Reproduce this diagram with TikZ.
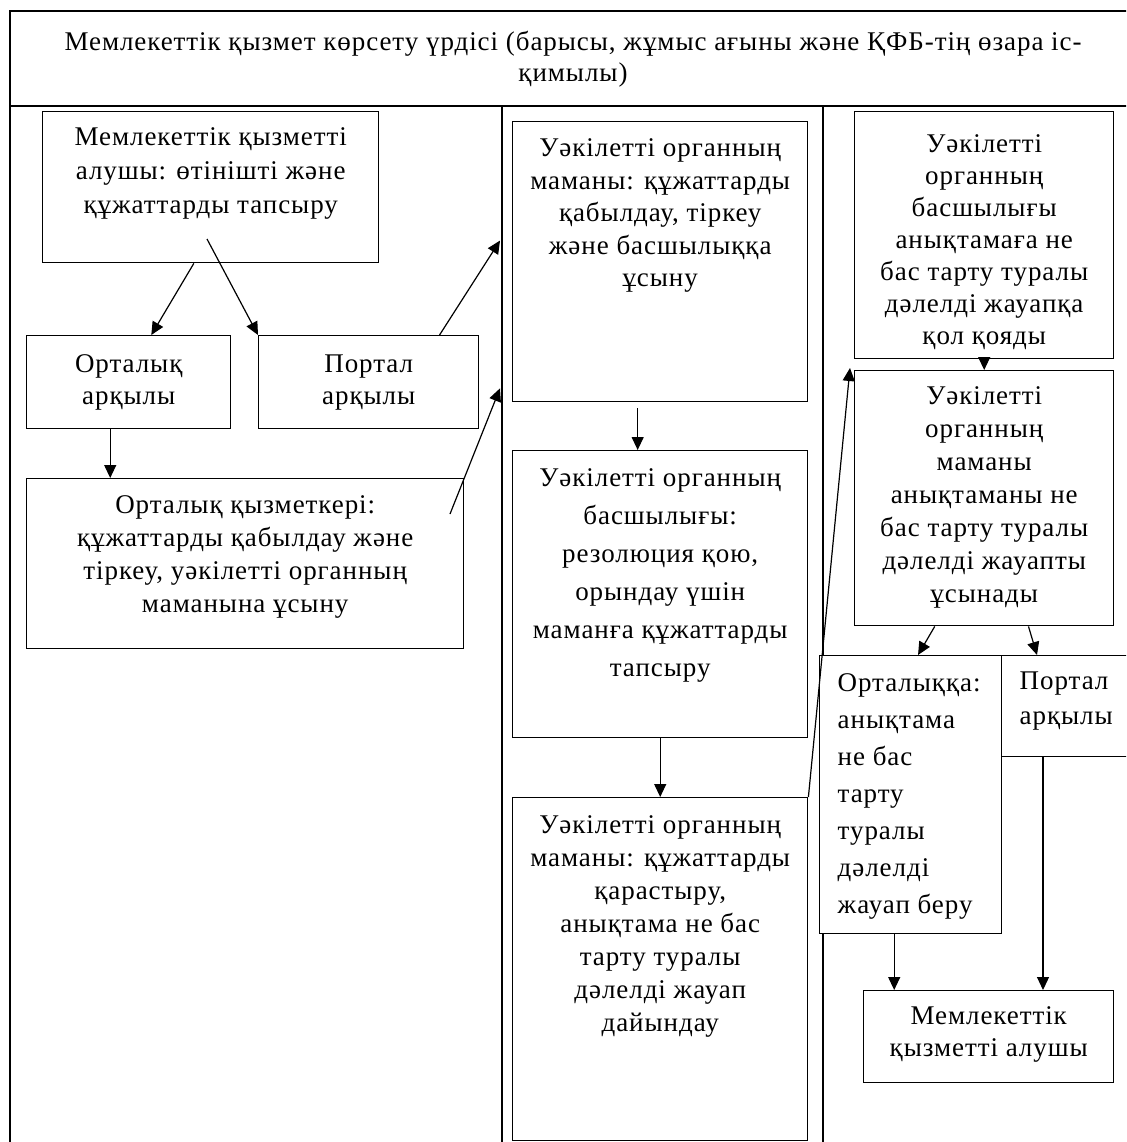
\documentclass[tikz,border=0pt]{standalone}
\usepackage{fontspec}
\setmainfont{Liberation Serif}[LetterSpace=3.5]
\usetikzlibrary{arrows.meta,calc}

% width, height, line spacing, top gap, text
\newcommand{\cellc}[5]{\parbox[c][#2pt][t]{#1pt}{\centering\fontsize{27pt}{#3pt}\selectfont\vspace*{#4pt}#5}}
\newcommand{\celll}[5]{\parbox[c][#2pt][t]{#1pt}{\raggedright\leftskip=18pt\fontsize{27pt}{#3pt}\selectfont\vspace*{#4pt}#5}}

\begin{document}
\begin{tikzpicture}[x=1pt, y=-1pt,
                    align=center,
                    cell/.style={draw, fill=white, anchor=north west, inner sep=0pt, line width=1.4pt},
                    frame/.style={line width=1.4pt},
                    flow/.style={-{Triangle[length=13pt,width=12pt]}, line width=1.2pt}]
  \useasboundingbox (0,0) rectangle (1126,1142);
  \fill[white] (0,0) rectangle (1126,1142);
  \clip (0,0) rectangle (1126,1142);
  % frame and columns
  \draw[frame] (10,1160) -- (10,11) -- (1160,11);
  \draw[frame] (10,106) -- (1160,106);
  \draw[frame] (502,106) -- (502,1160);
  \draw[frame] (823,106) -- (823,1160);
  \node[font=\fontsize{27pt}{31pt}\selectfont] (title) at (573,59) {Мемлекеттік қызмет көрсету үрдісі (барысы, жұмыс ағыны және ҚФБ-тің өзара іс-\\қимылы)};
  % first column
  \node[cell] (applicant) at (42,111) {\cellc{336}{151}{34}{16}{Мемлекеттік қызметті\\алушы: өтінішті және\\құжаттарды тапсыру}};
  \node[cell] (viacentre) at (26,335) {\cellc{204}{93}{32}{19}{Орталық\\арқылы}};
  \node[cell] (viaportal) at (258,335) {\cellc{220}{93}{32}{19}{Портал\\арқылы}};
  \node[cell] (centreclerk) at (26,478) {\cellc{437}{170}{33}{17}{Орталық қызметкері:\\құжаттарды қабылдау және\\тіркеу, уәкілетті органның\\маманына ұсыну}};
  % second column
  \node[cell] (specreceive) at (512,121) {\cellc{295}{280}{32.5}{17}{Уәкілетті органның\\маманы: құжаттарды\\қабылдау, тіркеу\\және басшылыққа\\ұсыну}};
  \node[cell] (headresol) at (512,450) {\cellc{295}{287}{38}{18}{Уәкілетті органның\\басшылығы:\\резолюция қою,\\орындау үшін\\маманға құжаттарды\\тапсыру}};
  \node[cell] (specprepare) at (512,797) {\cellc{295}{343}{33}{18}{Уәкілетті органның\\маманы: құжаттарды\\қарастыру,\\анықтама не бас\\тарту туралы\\дәлелді жауап\\дайындау}};
  % third column
  \node[cell] (headsign) at (854,111) {\cellc{259}{247}{32}{23}{Уәкілетті\\органның\\басшылығы\\анықтамаға не\\бас тарту туралы\\дәлелді жауапқа\\қол қояды}};
  \node[cell] (specsubmit) at (854,370) {\cellc{259}{255}{33}{16}{Уәкілетті\\органның\\маманы\\анықтаманы не\\бас тарту туралы\\дәлелді жауапты\\ұсынады}};
  \node[cell] (tocentre) at (819,655) {\celll{182}{278}{37}{18}{Орталыққа:\\анықтама\\не бас\\тарту\\туралы\\дәлелді\\жауап беру}};
  \node[cell] (toportal) at (1001,655) {\celll{130}{101}{35}{16}{Портал\\арқылы}};
  \node[cell] (recipient) at (863,990) {\cellc{250}{92}{32}{16}{Мемлекеттік\\қызметті алушы}};
  % connectors
  \coordinate (forkstart) at (207,239);
  \coordinate (clerkout) at (450,514);
  \draw[flow] ($(applicant.south west)!0.45!(applicant.south east)$) -- ($(viacentre.north west)!0.61!(viacentre.north east)$);
  \draw[flow] (forkstart) -- (viaportal.north west);
  \draw[flow] ($(viacentre.south west)!0.41!(viacentre.south east)$) coordinate (bd) -- (bd |- centreclerk.north);
  \draw[flow] ($(viaportal.north west)!0.82!(viaportal.north east)$) -- ($(specreceive.north west)!0.425!(specreceive.south west)+(-12,0)$);
  \draw[flow] (clerkout) -- ($(specreceive.north west)!0.95!(specreceive.south west)+(-12,0)$);
  \draw[flow] ($(specreceive.south west)!0.424!(specreceive.south east)+(0,6)$) coordinate (ef) -- (ef |- headresol.north);
  \draw[flow] (headresol.south) -- (specprepare.north);
  \draw[flow] (specprepare.north east) -- ($(specsubmit.north west)+(-4,-2)$);
  \draw[flow] (headsign.south) -- (specsubmit.north);
  \draw[flow] ($(specsubmit.south west)!0.31!(specsubmit.south east)$) -- ($(tocentre.north west)!0.54!(tocentre.north east)$);
  \draw[flow] ($(specsubmit.south west)!0.67!(specsubmit.south east)$) -- ($(toportal.north west)+(36,0)$);
  \draw[flow] ($(tocentre.south west)!0.41!(tocentre.south east)$) coordinate (jl) -- (jl |- recipient.north);
  \draw[flow] ($(toportal.south west)+(42,0)$) coordinate (kl) -- (kl |- recipient.north);
\end{tikzpicture}
\end{document}
